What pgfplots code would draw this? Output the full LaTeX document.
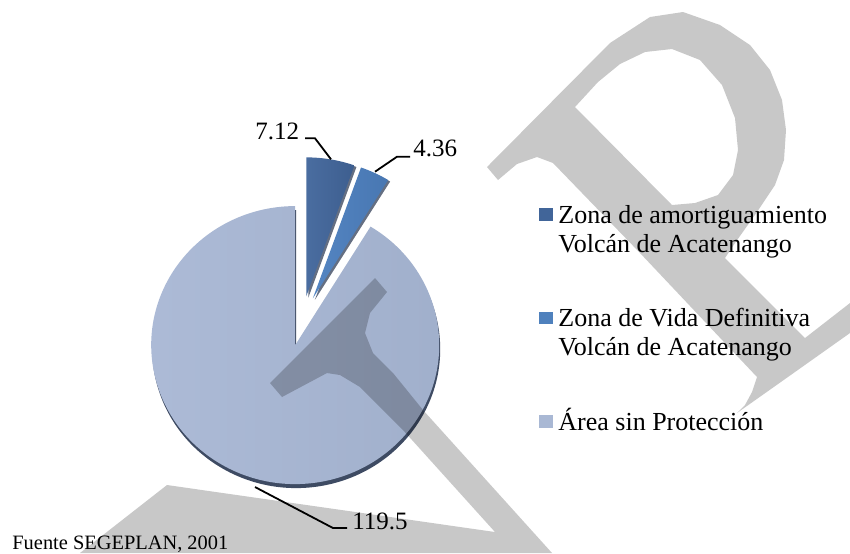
\documentclass[border=0pt]{standalone}
\usepackage{pgfplots}
\pgfplotsset{compat=1.18}
\usepackage{pgfplotstable}
\usepackage{fontspec}
\setmainfont{Liberation Serif}
\definecolor{sAl}{HTML}{4A6DA0}
\definecolor{sAr}{HTML}{3D5E8F}
\definecolor{sBl}{HTML}{5485C2}
\definecolor{sBr}{HTML}{4877B2}
\definecolor{sCl}{HTML}{ADBBD7}
\definecolor{sCr}{HTML}{A0AFCB}
\definecolor{legA}{HTML}{416599}
\definecolor{legB}{HTML}{4F81BD}
\definecolor{legC}{HTML}{A9B8D4}
\definecolor{rim}{HTML}{3E4B63}

\pgfplotstableread{
id value
1 7.12
2 4.36
3 119.5
}\piedata

% #1 style, #2 tip x, #3 tip y (image px, y down), #4 start angle, #5 end angle
\newcommand{\pieslice}[5]{%
  \path[#1] (axis cs:#2,#3) -- ++({144*cos(#4)*0.5pt},{139*sin(#4)*0.5pt})
    arc[start angle=#4, end angle=#5, x radius=72pt, y radius=69.5pt] -- cycle;}

\begin{document}
\begin{tikzpicture}
\pgfplotstablegetelem{0}{value}\of\piedata \let\va\pgfplotsretval
\pgfplotstablegetelem{1}{value}\of\piedata \let\vb\pgfplotsretval
\pgfplotstablegetelem{2}{value}\of\piedata \let\vc\pgfplotsretval
\pgfmathsetmacro\tot{\va+\vb+\vc}
\pgfmathsetmacro\aA{90}
\pgfmathsetmacro\aB{90-360*(\va/\tot)}
\pgfmathsetmacro\aC{\aB-360*(\vb/\tot)}
\pgfmathsetmacro\aD{\aC-360*(\vc/\tot)}
\pgfmathsetmacro\mA{(\aA+\aB)/2}
\pgfmathsetmacro\mB{(\aB+\aC)/2}
\pgfmathsetmacro\mC{(\aC+\aD)/2}
\pgfmathsetmacro\txA{302+25*cos(\mA)}\pgfmathsetmacro\tyA{321-25*sin(\mA)}
\pgfmathsetmacro\txB{302+25*cos(\mB)}\pgfmathsetmacro\tyB{321-25*sin(\mB)}
\pgfmathsetmacro\txC{302+25*cos(\mC)}\pgfmathsetmacro\tyC{321-25*sin(\mC)}
\pgfmathsetmacro\txCs{\txC+1}\pgfmathsetmacro\tyCs{\tyC+4}
\pgfmathsetmacro\txAs{\txA+2}\pgfmathsetmacro\tyAs{\tyA+1.5}
\pgfmathsetmacro\txBs{\txB+2}\pgfmathsetmacro\tyBs{\tyB+1.5}
\begin{axis}[at={(0,0)}, anchor=north west, x=0.5pt, y=0.5pt, y dir=reverse,
  xmin=0, xmax=850, ymin=0, ymax=553, hide axis, clip=false]
\path (0,0) rectangle (850,553);
% shadows
\pieslice{fill=rim}{\txCs}{\tyCs}{\aC}{\aD}
\pieslice{fill=rim!80}{\txAs}{\tyAs}{\aA}{\aB}
\pieslice{fill=rim!80}{\txBs}{\tyBs}{\aB}{\aC}
% slices
\pieslice{left color=sCl, right color=sCr}{\txC}{\tyC}{\aC}{\aD}
\pieslice{left color=sAl, right color=sAr}{\txA}{\tyA}{\aA}{\aB}
\pieslice{left color=sBl, right color=sBr}{\txB}{\tyB}{\aB}{\aC}
% data labels
\node[anchor=base west, inner sep=0, font=\fontsize{12.5}{15}\selectfont] at (255,139.3) {7.12};
\node[anchor=base west, inner sep=0, font=\fontsize{12.5}{15}\selectfont] at (413,156.7) {4.36};
\node[anchor=base west, inner sep=0, font=\fontsize{12.5}{15}\selectfont] at (352,529) {119.5};
\draw[black, line width=0.9pt] (305,138.3) -- (315,138.3) -- (331,159.3);
\draw[black, line width=0.9pt] (410,156.7) -- (397,156.7) -- (375,171.7);
\draw[black, line width=0.9pt] (255,487) -- (333,528) -- (347,528);
% legend
\fill[legA] (539,208.3) rectangle (553,221);
\fill[legB] (539,311.7) rectangle (553,324.3);
\fill[legC] (539,415) rectangle (553,427.7);
\begin{scope}[every node/.style={anchor=base west, inner sep=0, font=\fontsize{13}{15}\selectfont}]
\node at (558,223.3) {Zona de amortiguamiento};
\node at (558,252.7) {Volcán de Acatenango};
\node at (558,326.7) {Zona de Vida Definitiva};
\node at (558,355.5) {Volcán de Acatenango};
\node at (558,430) {Área sin Protección};
\end{scope}
\node[anchor=base west, inner sep=0, font=\fontsize{10.2}{12}\selectfont] at (12,549.3) {Fuente SEGEPLAN, 2001};
% watermark (multiplied grey)
\fill[black, opacity=0.215, even odd rule]
  (487,167) -- (498,180) -- (517,164) -- (537,157) -- (553,163) -- (640,253) -- (757,377)
  -- (752,392) -- (745,405) -- (737,413) -- (795,372) -- (850,333) -- (850,303) -- (805,338)
  -- (725,258) -- (735,243) -- (757,212) -- (775,185) -- (784,160) -- (786,130) -- (782,100)
  -- (770,70) -- (750,45) -- (720,25) -- (683,12) -- (650,17) -- (610,43) -- cycle
  (575,107) -- (598,82) -- (620,64) -- (645,52) -- (672,49) -- (700,60) -- (722,85)
  -- (735,118) -- (738,150) -- (733,175) -- (718,195) -- (695,203) -- (672,205) -- cycle;
\fill[black, opacity=0.215]
  (270,383) -- (375,278) -- (387,292) -- (370,313) -- (365,333) -- (373,353) -- (393,373)
  -- (423,410) -- (552,553) -- (80,553) -- (167,485) -- (495,532) -- (403,430) -- (360,387)
  -- (340,375) -- (327,373) -- (282,397) -- cycle;
\end{axis}
\end{tikzpicture}
\end{document}
